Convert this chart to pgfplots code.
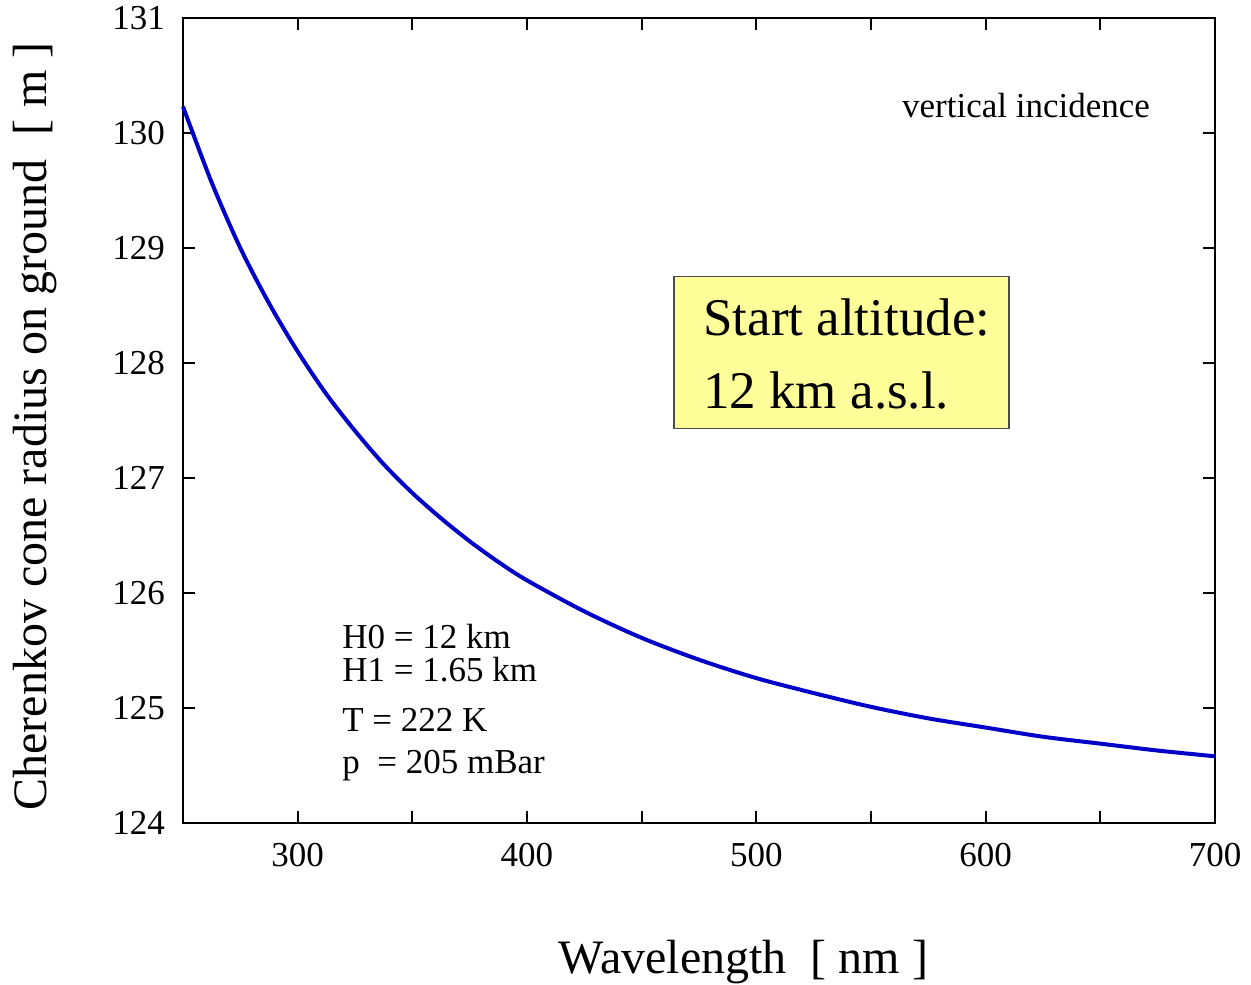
\documentclass[border=0pt]{standalone}
\usepackage{pgfplots}
\pgfplotsset{compat=1.18}
\usepackage{fontspec}
\setmainfont{Liberation Serif}
\definecolor{curveblue}{RGB}{0,0,200}
\definecolor{boxyellow}{RGB}{255,255,153}
\begin{document}
\begin{tikzpicture}
\useasboundingbox (-91.5pt,-80.5pt) rectangle (534pt,411.5pt);
\begin{axis}[
  scale only axis,
  width=516pt, height=402.5pt,
  xmin=250, xmax=700, ymin=124, ymax=131,
  xtick={250,300,...,700},
  xticklabels={,300,,400,,500,,600,,700},
  ytick={124,125,...,131},
  tick align=inside,
  major tick length=6pt,
  axis line style={line width=1pt},
  every tick/.style={black, line width=0.9pt},
  /pgf/number format/assume math mode=true,
  tick label style={font=\fontsize{17.5}{20}\selectfont},
  xticklabel style={yshift=-6.5pt},
  yticklabel style={xshift=-5.5pt},
  xlabel={Wavelength\ \ [ nm ]},
  ylabel={Cherenkov cone radius on ground\ \ [ m ]},
  label style={font=\fontsize{24}{28}\selectfont},
  xlabel style={at={(axis description cs:0.543,-0.1727)},anchor=center},
  ylabel style={at={(axis description cs:-0.1434,0.4925)},anchor=center,rotate=0},
  clip=false,
]
\addplot[curveblue, line width=2pt, smooth] coordinates {
(250,130.23) (262.5,129.57) (275,129.00) (287.5,128.52) (300,128.10)
(312.5,127.73) (325,127.41) (337.5,127.12) (350,126.87) (362.5,126.65)
(375,126.45) (387.5,126.27) (400,126.11) (425,125.84) (450,125.61)
(475,125.42) (500,125.26) (525,125.13) (550,125.01) (575,124.91)
(600,124.83) (625,124.75) (650,124.69) (675,124.63) (700,124.58)
};
\node[anchor=center, font=\fontsize{17.5}{20}\selectfont] at (axis cs:617.6,130.24) {vertical incidence};
\draw[draw=black!70, line width=0.6pt, fill=boxyellow] (axis cs:464.1,128.75) rectangle (axis cs:610.2,127.43);
\node[anchor=base west, inner sep=0pt, font=\fontsize{26.5}{30}\selectfont] at (axis cs:476.7,128.243) {Start altitude:};
\node[anchor=base west, inner sep=0pt, font=\fontsize{26.5}{30}\selectfont] at (axis cs:476.7,127.60) {12 km a.s.l.};
\node[anchor=base west, inner sep=0pt, font=\fontsize{17.5}{20}\selectfont] at (axis cs:319.3,125.52) {H0 = 12 km};
\node[anchor=base west, inner sep=0pt, font=\fontsize{17.5}{20}\selectfont] at (axis cs:319.3,125.23) {H1 = 1.65 km};
\node[anchor=base west, inner sep=0pt, font=\fontsize{17.5}{20}\selectfont] at (axis cs:319.3,124.80) {T = 222 K};
\node[anchor=base west, inner sep=0pt, font=\fontsize{17.5}{20}\selectfont] at (axis cs:319.3,124.43) {p\ \ = 205 mBar};
\end{axis}
\end{tikzpicture}
\end{document}
